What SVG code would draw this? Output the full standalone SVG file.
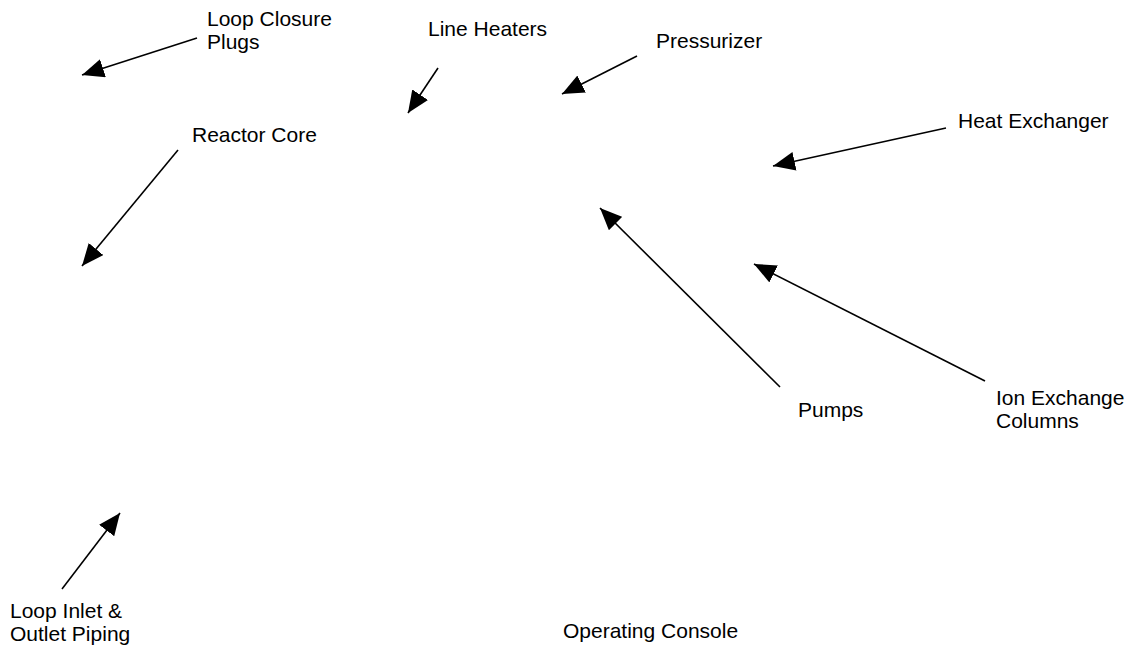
<svg xmlns="http://www.w3.org/2000/svg" width="1132" height="646" viewBox="0 0 1132 646">
<style>
.lbl{font-family:"Liberation Sans",Arial,sans-serif;font-size:21px;fill:#000}
.con{stroke:#000;stroke-width:1.6;fill:none;marker-end:url(#ah)}
</style>
<defs>
<marker id="ah" markerUnits="userSpaceOnUse" markerWidth="23" markerHeight="19" refX="22" refY="9.5" orient="auto">
<path d="M0,0 L22,9.5 L0,19 z" fill="#000"/>
</marker>
</defs>
<rect width="1132" height="646" fill="#fff"/>
<g id="connectors">
<line class="con" x1="197" y1="38" x2="82" y2="75"/>
<line class="con" x1="438" y1="68" x2="408" y2="113"/>
<line class="con" x1="637" y1="56" x2="562" y2="94"/>
<line class="con" x1="946" y1="128" x2="773" y2="166"/>
<line class="con" x1="178" y1="150" x2="82" y2="266"/>
<line class="con" x1="780" y1="387" x2="600" y2="208"/>
<line class="con" x1="985" y1="381" x2="754" y2="264"/>
<line class="con" x1="62" y1="589" x2="120" y2="513"/>
</g>
<g id="loop-closure-plugs"><text class="lbl" x="207" y="26">Loop Closure</text><text class="lbl" x="207" y="49">Plugs</text></g>
<g id="line-heaters"><text class="lbl" x="428" y="36">Line Heaters</text></g>
<g id="pressurizer"><text class="lbl" x="656" y="48">Pressurizer</text></g>
<g id="heat-exchanger"><text class="lbl" x="958" y="128">Heat Exchanger</text></g>
<g id="reactor-core"><text class="lbl" x="192" y="142">Reactor Core</text></g>
<g id="pumps"><text class="lbl" x="798" y="417">Pumps</text></g>
<g id="ion-exchange-columns"><text class="lbl" x="996" y="405">Ion Exchange</text><text class="lbl" x="996" y="428">Columns</text></g>
<g id="loop-inlet-outlet-piping"><text class="lbl" x="10" y="618">Loop Inlet &amp;</text><text class="lbl" x="10" y="641">Outlet Piping</text></g>
<g id="operating-console"><text class="lbl" x="563" y="638">Operating Console</text></g>
</svg>
